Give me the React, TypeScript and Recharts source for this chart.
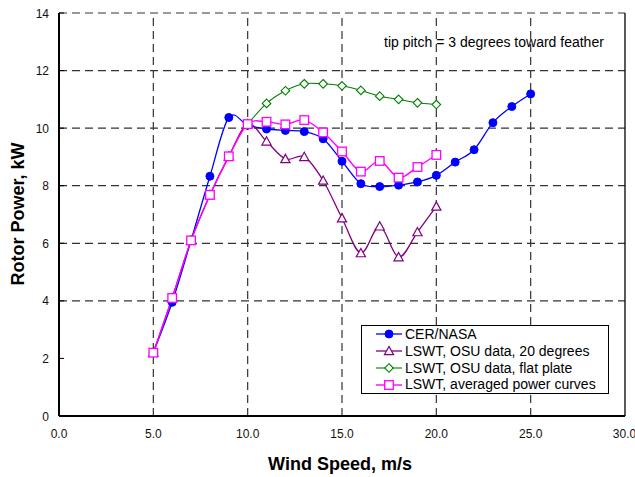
import React from 'react';
import { LineChart, Line, XAxis, YAxis, ReferenceLine, Legend, Label } from 'recharts';

const windSpeed = [5, 6, 7, 8, 9, 10, 11, 12, 13, 14, 15, 16, 17, 18, 19, 20, 21, 22, 23, 24, 25];
const cerNasa = [2.2, 3.95, 6.1, 8.33, 10.37, 10.1, 9.97, 9.92, 9.88, 9.63, 8.85, 8.07, 7.97, 8.02, 8.13, 8.36, 8.82, 9.25, 10.19, 10.75, 11.19];
const osu20deg = [2.2, 4.1, 6.1, 7.68, 9.02, 10.14, 9.54, 8.93, 9.0, 8.18, 6.87, 5.66, 6.59, 5.52, 6.39, 7.28];
const flatPlateStart = 10;
const osuFlatPlate = [10.14, 10.86, 11.3, 11.54, 11.54, 11.47, 11.31, 11.11, 11.0, 10.88, 10.82];
const averagedCurves = [2.2, 4.1, 6.1, 7.68, 9.02, 10.14, 10.22, 10.13, 10.28, 9.85, 9.19, 8.49, 8.86, 8.28, 8.65, 9.07];

const xTicks = [0, 5, 10, 15, 20, 25, 30];
const yTicks = [0, 2, 4, 6, 8, 10, 12, 14];
const xGrid = [5, 10, 15, 20, 25];
const yGrid = [4, 6, 8, 10, 12, 14];

const seriesNames = {
  cer: 'CER/NASA',
  osu: 'LSWT, OSU data, 20 degrees',
  flat: 'LSWT, OSU data, flat plate',
  avg: 'LSWT, averaged power curves',
};

const rows = windSpeed.map((ws, i) => {
  const fi = windSpeed.indexOf(flatPlateStart);
  return {
    ws,
    cer: cerNasa[i],
    osu: osu20deg[i],
    flat: i >= fi ? osuFlatPlate[i - fi] : undefined,
    avg: averagedCurves[i],
  };
});

const FONT = '"Liberation Sans", Arial, sans-serif';

// Catmull-Rom style smoothing (similar to Excel smoothed lines)
const smoothCurve = (context: any) => {
  let pts: number[][] = [];
  return {
    areaStart() {},
    areaEnd() {},
    lineStart() {
      pts = [];
    },
    lineEnd() {
      const n = pts.length;
      if (n === 0) return;
      context.moveTo(pts[0][0], pts[0][1]);
      for (let i = 0; i < n - 1; i++) {
        const p0 = pts[i - 1] || pts[i];
        const p1 = pts[i];
        const p2 = pts[i + 1];
        const p3 = pts[i + 2] || p2;
        context.bezierCurveTo(
          p1[0] + (p2[0] - p0[0]) / 6,
          p1[1] + (p2[1] - p0[1]) / 6,
          p2[0] - (p3[0] - p1[0]) / 6,
          p2[1] - (p3[1] - p1[1]) / 6,
          p2[0],
          p2[1]
        );
      }
    },
    point(x: number, y: number) {
      pts.push([x, y]);
    },
  };
};

const Marker = ({ kind, cx, cy, color }: any) => {
  if (cx == null || cy == null) return null;
  if (kind === 'circle') return <circle cx={cx} cy={cy} r={4} fill={color} stroke={color} strokeWidth={1} />;
  if (kind === 'triangle') {
    const s = 4.6;
    return (
      <path
        d={`M${cx},${cy - s} L${cx + s},${cy + s * 0.8} L${cx - s},${cy + s * 0.8} Z`}
        fill="#fff"
        stroke={color}
        strokeWidth={1.2}
      />
    );
  }
  if (kind === 'diamond') {
    const s = 4.3;
    return (
      <path
        d={`M${cx},${cy - s} L${cx + s},${cy} L${cx},${cy + s} L${cx - s},${cy} Z`}
        fill="#fff"
        stroke={color}
        strokeWidth={1.1}
      />
    );
  }
  const h = 4.3;
  return <rect x={cx - h} y={cy - h} width={2 * h} height={2 * h} fill="#fff" stroke={color} strokeWidth={1.3} />;
};

const series = [
  { key: 'cer', color: '#0000FF', kind: 'circle', width: 1.3 },
  { key: 'osu', color: '#800080', kind: 'triangle', width: 1.3 },
  { key: 'flat', color: '#008000', kind: 'diamond', width: 1.1 },
  { key: 'avg', color: '#FF00FF', kind: 'square', width: 1.4 },
];

const YTick = (props: any) => {
  const { x, y, payload } = props;
  return (
    <g>
      <line x1={x + 10} x2={x + 15} y1={y} y2={y} stroke="#000" strokeWidth={1} />
      <text x={x} y={y} dy={4.5} textAnchor="end" fontSize={12} fontFamily={FONT} fill="#111">
        {payload.value}
      </text>
    </g>
  );
};

const LegendBox = () => (
  <div
    style={{
      boxSizing: 'border-box',
      width: 248,
      height: 69,
      border: '1px solid #000',
      background: '#fff',
      paddingTop: 0,
      paddingLeft: 13,
      fontFamily: FONT,
      fontSize: 14,
      color: '#000',
    }}
  >
    {series.map((s) => (
      <div key={s.key} style={{ height: 16.8, lineHeight: '16.8px', display: 'flex', alignItems: 'center' }}>
        <svg width={28} height={12} style={{ display: 'block' }}>
          <line x1={1} x2={27} y1={6} y2={6} stroke={s.color} strokeWidth={s.width} />
          <Marker kind={s.kind} cx={14} cy={6} color={s.color} />
        </svg>
        <span style={{ marginLeft: 2, whiteSpace: 'nowrap' }}>{(seriesNames as any)[s.key]}</span>
      </div>
    ))}
  </div>
);

export default function App() {
  return (
    <div style={{ position: 'absolute', left: 0, top: 0, width: 635, height: 477, background: '#fff' }}>
      <LineChart width={635} height={477} data={rows} margin={{ top: 13, right: 10, bottom: 0, left: 0 }}>
        {yGrid.map((v) => (
          <ReferenceLine key={'h' + v} y={v} stroke="#333" strokeWidth={1.2} strokeDasharray="8 5" />
        ))}
        {xGrid.map((v) => (
          <ReferenceLine key={'v' + v} x={v} stroke="#333" strokeWidth={1.2} strokeDasharray="8 5" />
        ))}
        <ReferenceLine x={30} stroke="#000" strokeWidth={1.3} />
        <XAxis
          dataKey="ws"
          type="number"
          domain={[0, 30]}
          ticks={xTicks}
          tickFormatter={(v: number) => v.toFixed(1)}
          tickLine={false}
          tickSize={0}
          tickMargin={13}
          height={61}
          axisLine={{ stroke: '#000', strokeWidth: 2 }}
          tick={{ fontSize: 12, fontFamily: FONT, fill: '#111' }}
        >
          <Label
            content={() => (
              <text x={340} y={470} textAnchor="middle" fontSize={18} fontWeight="bold" fontFamily={FONT} fill="#000">
                Wind Speed, m/s
              </text>
            )}
          />
        </XAxis>
        <YAxis
          type="number"
          domain={[0, 14]}
          ticks={yTicks}
          tickLine={false}
          tickSize={0}
          tickMargin={10}
          width={59}
          axisLine={{ stroke: '#000', strokeWidth: 2 }}
          tick={<YTick />}
        >
          <Label
            content={() => (
              <text
                x={24}
                y={214}
                transform="rotate(-90 24 214)"
                textAnchor="middle"
                fontSize={18}
                fontWeight="bold"
                fontFamily={FONT}
                fill="#000"
              >
                Rotor Power, kW
              </text>
            )}
          />
        </YAxis>
        {series.map((s) => (
          <Line
            key={s.key}
            dataKey={s.key}
            name={(seriesNames as any)[s.key]}
            type={smoothCurve as any}
            stroke={s.color}
            strokeWidth={s.width}
            isAnimationActive={false}
            connectNulls={false}
            dot={(p: any) => <Marker key={s.key + p.index} kind={s.kind} cx={p.cx} cy={p.cy} color={s.color} />}
            activeDot={false}
          />
        ))}
        <Legend
          layout="vertical"
          align="center"
          verticalAlign="middle"
          content={() => <LegendBox />}
          wrapperStyle={{ position: 'absolute', left: 361, top: 325, width: 248, height: 69, transform: 'none' }}
        />
      </LineChart>
      <div
        style={{
          position: 'absolute',
          left: 384,
          top: 33,
          fontFamily: FONT,
          fontSize: 14,
          lineHeight: '18px',
          color: '#000',
          whiteSpace: 'nowrap',
        }}
      >
        tip pitch = 3 degrees toward feather
      </div>
    </div>
  );
}
